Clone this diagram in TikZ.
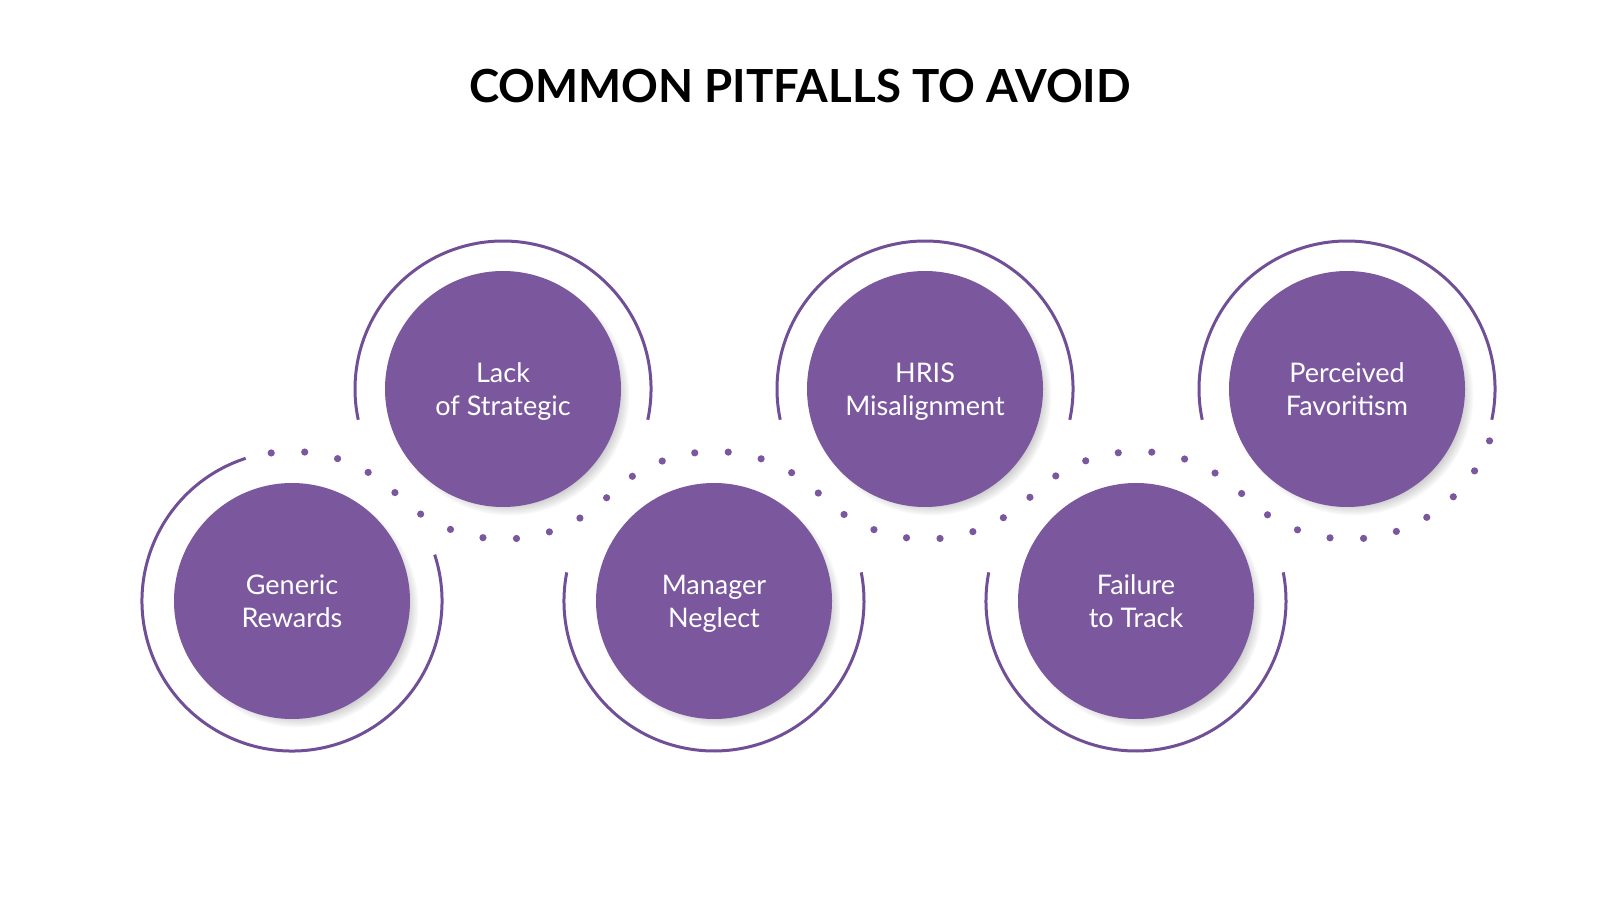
\documentclass[tikz,border=0pt]{standalone}
\usepackage{fontspec}
\setmainfont{Lato}
\usetikzlibrary{shadows}

\definecolor{pitpurple}{HTML}{7B589E}
\definecolor{ringpurple}{HTML}{704F96}

\tikzset{
  pitfall/.style={circle, fill=pitpurple, minimum size=118pt, inner sep=0pt,
    text=white, align=center, font=\fontsize{13.5}{16.5}\selectfont,
    execute at begin node={\rule{0pt}{31.5pt}}, execute at end node=\strut,
    circular drop shadow={shadow xshift=3pt, shadow yshift=-3pt, shadow scale=1.02, opacity=0.6}},
  ring/.style={draw=ringpurple, line width=1.5pt},
  wave/.style={draw=pitpurple, line width=3.6pt, line cap=round, dash pattern=on 0pt off 16.8pt}
}

\begin{document}
\begin{tikzpicture}[x=0.5pt, y=0.5pt]
    \useasboundingbox (0,0) rectangle (1600,900);

    \coordinate (G) at (292,299);
    \coordinate (L) at (503,511);
    \coordinate (M) at (714,299);
    \coordinate (H) at (925,511);
    \coordinate (F) at (1136,299);
    \coordinate (P) at (1347,511);

    % dotted wave
    \path[wave] (G) ++(98:74.75pt)
        arc[start angle=98, end angle=45, radius=74.75pt]
        arc[start angle=225, end angle=315, radius=74.75pt]
        arc[start angle=135, end angle=45, radius=74.75pt]
        arc[start angle=225, end angle=315, radius=74.75pt]
        arc[start angle=135, end angle=45, radius=74.75pt]
        arc[start angle=225, end angle=340, radius=74.75pt];

    % outer rings
    \draw[ring] (G) ++(108:75pt) arc[start angle=108, end angle=378, radius=75pt];
    \foreach \c in {M,F}
        \draw[ring] (\c) ++(169:75pt) arc[start angle=169, end angle=371, radius=75pt];
    \foreach \c in {L,H,P}
        \draw[ring] (\c) ++(-12:74pt) arc[start angle=-12, end angle=192, radius=74pt];

    \node[pitfall] (generic) at (G) {Generic\\Rewards};
    \node[pitfall] (lack) at (L) {Lack\\of Strategic};
    \node[pitfall] (manager) at (M) {Manager\\Neglect};
    \node[pitfall] (hris) at (H) {HRIS\\Misalignment};
    \node[pitfall] (failure) at (F) {Failure\\to Track};
    \node[pitfall, execute at begin node=\strut] (perceived) at (P) {Perceived\\Favoritism};

    \node[font=\bfseries\fontsize{22.8}{27}\selectfont] (title) at (800,814) {COMMON PITFALLS TO AVOID};
\end{tikzpicture}
\end{document}
